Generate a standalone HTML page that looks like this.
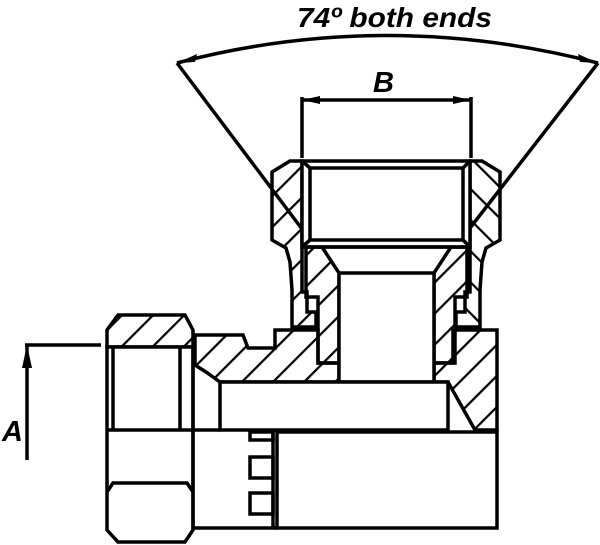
<!DOCTYPE html>
<html><head><meta charset="utf-8"><style>
html,body{margin:0;padding:0;background:#fff;}
svg{display:block;}
text{font-family:"Liberation Sans",sans-serif;font-style:italic;fill:#000;}
</style></head><body>
<svg width="600" height="545" viewBox="0 0 600 545" xmlns="http://www.w3.org/2000/svg">
<defs>
<pattern id="h" width="22" height="22" patternUnits="userSpaceOnUse" patternTransform="rotate(45)">
<line x1="0" y1="0" x2="0" y2="22" stroke="#000" stroke-width="4.5"/>
</pattern>
<pattern id="h2" width="22" height="22" patternUnits="userSpaceOnUse" patternTransform="rotate(-45)">
<line x1="0" y1="0" x2="0" y2="22" stroke="#000" stroke-width="4.5"/>
</pattern>
</defs>
<g fill="none" stroke="#000" stroke-width="3.5" stroke-linejoin="miter">
<path d="M177,63 Q386,8 598,63"/>
<line x1="177" y1="63" x2="305" y2="233"/>
<line x1="598" y1="63" x2="463" y2="237"/>
<line x1="302" y1="97" x2="302" y2="158"/>
<line x1="471" y1="97" x2="471" y2="158"/>
<line x1="302" y1="100" x2="471" y2="100"/>
<line x1="27" y1="345" x2="27" y2="460"/>
<line x1="25" y1="345" x2="101" y2="345"/>
</g>
<g fill="#000">
<path d="M177,63 L197,54 L195,62 Z"/>
<path d="M598,63 L578,54 L580,62 Z"/>
<path d="M302,100 L320,96 L320,104 Z"/>
<path d="M471,100 L453,96 L453,104 Z"/>
<path d="M27,345 L22,368 L32,368 Z"/>
</g>
<text x="297" y="27" font-size="28" font-weight="bold" textLength="195" lengthAdjust="spacingAndGlyphs">74º both ends</text>
<text x="373" y="92" font-size="29" font-weight="bold">B</text>
<text x="2" y="441" font-size="29" font-weight="bold">A</text>

<g stroke="#000" stroke-width="3.5" stroke-linejoin="miter">
<polygon fill="url(#h)" points="290,161 302,161 302,292 307,292 307,312 316,312 316,327 292,327 292,290 290,262 286,248 272,240 272,172"/>
<polygon fill="url(#h2)" points="482,161 470,161 470,292 465,292 465,312 456,312 456,327 480,327 480,290 482,262 486,248 500,240 500,172"/>
<polygon fill="url(#h)" points="306,247 322,247 339,273 339,363 318,363 318,297 306,297"/>
<polygon fill="url(#h)" points="467,247 451,247 434,273 434,363 455,363 455,297 467,297"/>
<polygon fill="url(#h)" points="195,335 243,335 248,348 275,348 275,330 318,330 318,363 339,363 339,382 220,382 206,372 195,365"/>
<polygon fill="url(#h)" points="453,330 497,330 497,430 475,430 448,382 434,382 434,363 453,363"/>
<rect x="302" y="161" width="168" height="86" fill="#fff"/>
<rect x="310" y="168" width="153" height="72" fill="none"/>
<line x1="302" y1="161" x2="310" y2="168"/>
<line x1="470" y1="161" x2="463" y2="168"/>
<line x1="302" y1="247" x2="310" y2="240"/>
<line x1="470" y1="247" x2="463" y2="240"/>
<line x1="302" y1="247" x2="470" y2="247"/>
<rect x="339" y="273" width="95" height="109" fill="#fff"/>
<rect x="220" y="382" width="228" height="48" fill="#fff"/>
<polygon fill="url(#h)" points="107,330 118,315 185,315 193,330 193,347 107,347"/>
<polygon fill="#fff" points="107,347 193,347 193,530 185,542 118,542 107,530"/>
<line x1="113" y1="347" x2="113" y2="430"/>
<line x1="180" y1="347" x2="180" y2="430"/>
<line x1="107" y1="430" x2="193" y2="430"/>
<polyline fill="none" points="107,492 113,483 187,483 193,492"/>
<polyline fill="none" points="193,347 193,430 220,430"/>
<polyline fill="none" points="193,430 193,528 277,528"/>
<rect x="277" y="432" width="220" height="96" fill="#fff"/>
<rect x="250" y="432" width="23" height="8" fill="#fff"/>
<rect x="250" y="457" width="23" height="21" fill="#fff"/>
<rect x="250" y="493" width="23" height="21" fill="#fff"/>
<line x1="273" y1="432" x2="273" y2="528"/>
</g>
</svg>
</body></html>
